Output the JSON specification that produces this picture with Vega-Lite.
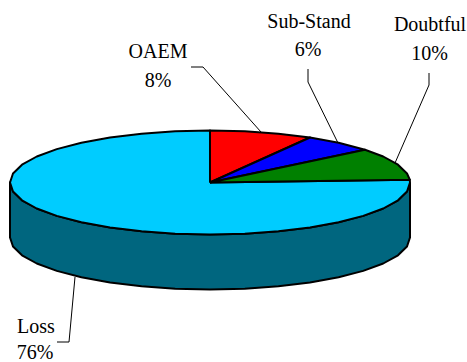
{
  "$schema": "https://vega.github.io/schema/vega-lite/v6.json",
  "width": 467,
  "height": 362,
  "padding": 0,
  "autosize": {"type": "none"},
  "background": "white",
  "view": {"stroke": null},
  "datasets": {
    "wall": [
      {"i":0,"x":100,"y":0},{"i":1,"x":98.5,"y":-4.5},{"i":2,"x":94,"y":-8.9},{"i":3,"x":86.6,"y":-13},{"i":4,"x":76.6,"y":-16.7},{"i":5,"x":64.3,"y":-19.9},{"i":6,"x":50,"y":-22.5},{"i":7,"x":34.2,"y":-24.4},{"i":8,"x":17.4,"y":-25.6},{"i":9,"x":0,"y":-26},{"i":10,"x":-17.4,"y":-25.6},{"i":11,"x":-34.2,"y":-24.4},{"i":12,"x":-50,"y":-22.5},{"i":13,"x":-64.3,"y":-19.9},{"i":14,"x":-76.6,"y":-16.7},{"i":15,"x":-86.6,"y":-13},{"i":16,"x":-94,"y":-8.9},{"i":17,"x":-98.5,"y":-4.5},{"i":18,"x":-100,"y":0},
      {"i":19,"x":-100,"y":-27.5},{"i":20,"x":-98.5,"y":-32},{"i":21,"x":-94,"y":-36.4},{"i":22,"x":-86.6,"y":-40.5},{"i":23,"x":-76.6,"y":-44.2},{"i":24,"x":-64.3,"y":-47.4},{"i":25,"x":-50,"y":-50},{"i":26,"x":-34.2,"y":-51.9},{"i":27,"x":-17.4,"y":-53.1},{"i":28,"x":0,"y":-53.5},{"i":29,"x":17.4,"y":-53.1},{"i":30,"x":34.2,"y":-51.9},{"i":31,"x":50,"y":-50},{"i":32,"x":64.3,"y":-47.4},{"i":33,"x":76.6,"y":-44.2},{"i":34,"x":86.6,"y":-40.5},{"i":35,"x":94,"y":-36.4},{"i":36,"x":98.5,"y":-32},{"i":37,"x":100,"y":-27.5},{"i":38,"x":100,"y":0}
    ],
    "slices": [
      {"s":"Loss","i":0,"x":0,"y":0},{"s":"Loss","i":1,"x":99.9,"y":1.4},{"s":"Loss","i":2,"x":100,"y":0},{"s":"Loss","i":3,"x":98.5,"y":-4.5},{"s":"Loss","i":4,"x":94,"y":-8.9},{"s":"Loss","i":5,"x":86.6,"y":-13},{"s":"Loss","i":6,"x":76.6,"y":-16.7},{"s":"Loss","i":7,"x":64.3,"y":-19.9},{"s":"Loss","i":8,"x":50,"y":-22.5},{"s":"Loss","i":9,"x":34.2,"y":-24.4},{"s":"Loss","i":10,"x":17.4,"y":-25.6},{"s":"Loss","i":11,"x":0,"y":-26},{"s":"Loss","i":12,"x":-17.4,"y":-25.6},{"s":"Loss","i":13,"x":-34.2,"y":-24.4},{"s":"Loss","i":14,"x":-50,"y":-22.5},{"s":"Loss","i":15,"x":-64.3,"y":-19.9},{"s":"Loss","i":16,"x":-76.6,"y":-16.7},{"s":"Loss","i":17,"x":-86.6,"y":-13},{"s":"Loss","i":18,"x":-94,"y":-8.9},{"s":"Loss","i":19,"x":-98.5,"y":-4.5},{"s":"Loss","i":20,"x":-100,"y":0},{"s":"Loss","i":21,"x":-98.5,"y":4.5},{"s":"Loss","i":22,"x":-94,"y":8.9},{"s":"Loss","i":23,"x":-86.6,"y":13},{"s":"Loss","i":24,"x":-76.6,"y":16.7},{"s":"Loss","i":25,"x":-64.3,"y":19.9},{"s":"Loss","i":26,"x":-50,"y":22.5},{"s":"Loss","i":27,"x":-34.2,"y":24.4},{"s":"Loss","i":28,"x":-17.4,"y":25.6},{"s":"Loss","i":29,"x":0,"y":26},{"s":"Loss","i":30,"x":0,"y":0},
      {"s":"OAEM","i":0,"x":0,"y":0},{"s":"OAEM","i":1,"x":0,"y":26},{"s":"OAEM","i":2,"x":17.4,"y":25.6},{"s":"OAEM","i":3,"x":34.2,"y":24.4},{"s":"OAEM","i":4,"x":50,"y":22.5},{"s":"OAEM","i":5,"x":0,"y":0},
      {"s":"Sub-Stand","i":0,"x":0,"y":0},{"s":"Sub-Stand","i":1,"x":50,"y":22.5},{"s":"Sub-Stand","i":2,"x":64.3,"y":19.9},{"s":"Sub-Stand","i":3,"x":77.5,"y":16.4},{"s":"Sub-Stand","i":4,"x":0,"y":0},
      {"s":"Doubtful","i":0,"x":0,"y":0},{"s":"Doubtful","i":1,"x":77.5,"y":16.4},{"s":"Doubtful","i":2,"x":86.6,"y":13},{"s":"Doubtful","i":3,"x":94,"y":8.9},{"s":"Doubtful","i":4,"x":98.5,"y":4.5},{"s":"Doubtful","i":5,"x":99.9,"y":1.4},{"s":"Doubtful","i":6,"x":0,"y":0}
    ],
    "leaders": [
      {"s":"OAEM","i":0,"x":-9.5,"y":57.75},{"s":"OAEM","i":1,"x":-3.5,"y":57.75},{"s":"OAEM","i":2,"x":25.5,"y":25.25},
      {"s":"Sub-Stand","i":0,"x":49,"y":56.75},{"s":"Sub-Stand","i":1,"x":49,"y":50.25},{"s":"Sub-Stand","i":2,"x":64,"y":19.75},
      {"s":"Doubtful","i":0,"x":109.5,"y":54.75},{"s":"Doubtful","i":1,"x":109.5,"y":48.75},{"s":"Doubtful","i":2,"x":92.5,"y":9.75},
      {"s":"Loss","i":0,"x":-76.5,"y":-79.75},{"s":"Loss","i":1,"x":-70.5,"y":-79.75},{"s":"Loss","i":2,"x":-67.5,"y":-47.25}
    ],
    "labels": [
      {"t":"Sub-Stand","x":49.5,"y":77.25},{"t":"6%","x":49,"y":63.25},
      {"t":"Doubtful","x":110,"y":75.75},{"t":"10%","x":109.75,"y":61.25},
      {"t":"OAEM","x":-26,"y":62.25},{"t":"8%","x":-26,"y":47.75},
      {"t":"Loss","x":-87,"y":-75.25},{"t":"76%","x":-87.5,"y":-88.25}
    ]
  },
  "encoding": {
    "x": {"field": "x", "type": "quantitative", "axis": null, "scale": {"domain": [-105, 128.5], "nice": false, "zero": false}},
    "y": {"field": "y", "type": "quantitative", "axis": null, "scale": {"domain": [-89.75, 91.25], "nice": false, "zero": false}}
  },
  "layer": [
    {
      "data": {"name": "wall"},
      "mark": {"type": "line", "fill": "#00667F", "stroke": "black", "strokeWidth": 2, "strokeJoin": "round", "clip": false},
      "encoding": {"order": {"field": "i", "type": "quantitative"}}
    },
    {
      "data": {"name": "slices"},
      "mark": {"type": "line", "stroke": "black", "strokeWidth": 2, "strokeJoin": "round", "clip": false},
      "encoding": {
        "order": {"field": "i", "type": "quantitative"},
        "fill": {
          "field": "s",
          "type": "nominal",
          "legend": null,
          "scale": {"domain": ["Loss", "OAEM", "Sub-Stand", "Doubtful"], "range": ["#00CCFF", "#FF0000", "#0000FF", "#008000"]}
        }
      }
    },
    {
      "data": {"name": "leaders"},
      "mark": {"type": "line", "stroke": "black", "strokeWidth": 1, "clip": false},
      "encoding": {
        "detail": {"field": "s", "type": "nominal"},
        "order": {"field": "i", "type": "quantitative"}
      }
    },
    {
      "data": {"name": "labels"},
      "mark": {"type": "text", "font": "Liberation Serif", "fontSize": 20, "align": "center", "baseline": "alphabetic", "color": "black", "clip": false},
      "encoding": {"text": {"field": "t", "type": "nominal"}}
    }
  ]
}
